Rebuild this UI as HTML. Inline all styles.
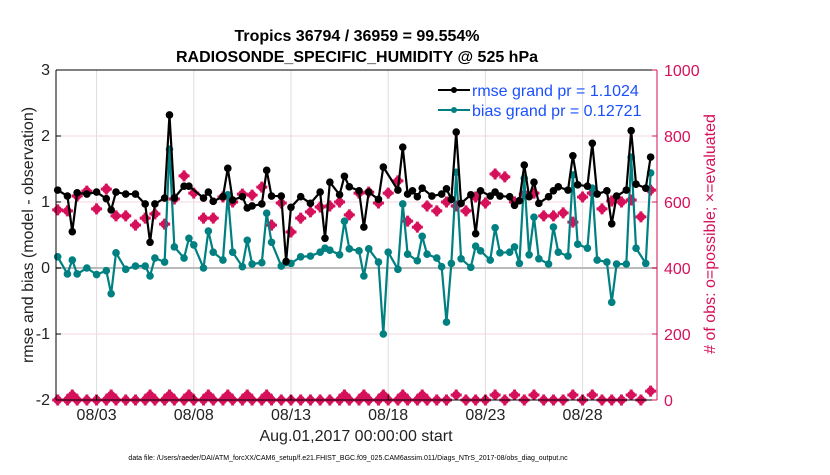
<!DOCTYPE html>
<html><head><meta charset="utf-8"><style>
body{margin:0;background:#fff;font-family:"Liberation Sans",sans-serif}
svg text{font-family:"Liberation Sans",sans-serif}
</style></head><body>
<svg id="chart" width="830" height="470" viewBox="0 0 830 470" xmlns="http://www.w3.org/2000/svg">
<text x="357" y="41" text-anchor="middle" font-size="16" font-weight="bold">Tropics 36794 / 36959 = 99.554%</text>
<text x="357" y="62" text-anchor="middle" font-size="16" font-weight="bold">RADIOSONDE_SPECIFIC_HUMIDITY @ 525 hPa</text>
<g id="grid"></g>
<g id="marks"></g>
<g id="axes"></g>
<text transform="translate(33,235) rotate(-90)" text-anchor="middle" font-size="16" fill="#222">rmse and bias (model - observation)</text>
<text transform="translate(715,234) rotate(-90)" text-anchor="middle" font-size="16" fill="#d6105a"># of obs: o=possible; ×=evaluated</text>
<text x="356" y="441" text-anchor="middle" font-size="16" fill="#222">Aug.01,2017 00:00:00 start</text>
<text x="348" y="460" text-anchor="middle" font-size="7">data file: /Users/raeder/DAI/ATM_forcXX/CAM6_setup/f.e21.FHIST_BGC.f09_025.CAM6assim.011/Diags_NTrS_2017-08/obs_diag_output.nc</text>
<g>
<line x1="438" y1="90" x2="470" y2="90" stroke="#000" stroke-width="2"/><circle cx="454" cy="90" r="3" fill="#000"/>
<text x="472" y="96" font-size="16" fill="#1a4fff">rmse grand pr = 1.1024</text>
<line x1="438" y1="110" x2="470" y2="110" stroke="#008080" stroke-width="2"/><circle cx="454" cy="110" r="3" fill="#008080"/>
<text x="472" y="116" font-size="16" fill="#1a4fff">bias grand pr = 0.12721</text>
</g>
</svg>
<script>
const rmseK=[0,2,3,4,6,8,10,11,12,14,16,18,19,20,22,23,24,26,27,30,31,32,34,35,36,38,39,40,42,43,44,46,47,48,50,52,54,55,56,58,59,60,62,63,64,66,67,70,71,72,73,74,75,77,79,80,81,82,83,85,86,87,89,90,91,93,94,95,96,97,98,99,101,102,103,105,106,107,109,110,111,113,114,115,117,118,119,121,122];
const rmseV=[1.18,1.09,0.55,1.14,1.12,1.15,1.05,0.88,1.15,1.12,1.12,0.97,0.39,0.97,1.06,2.32,1.06,1.24,1.24,1.06,1.15,1.01,1.08,1.51,1.03,1.08,0.91,0.94,0.97,1.48,1.09,1.09,0.1,0.92,1.08,0.98,1.15,0.45,1.3,1.11,1.39,1.23,1.17,0.62,1.15,1.04,1.53,1.18,1.83,1.12,1.17,1.08,1.21,1.09,1.12,1.2,1.04,2.06,0.98,1.11,0.52,1.17,1.09,1.15,1.09,1.08,0.95,1.02,1.56,1.08,1.3,0.98,1.08,1.17,1.23,1.18,1.7,1.26,1.24,1.89,1.12,1.17,0.67,1.09,1.18,2.08,1.27,1.21,1.68];
const biasK=[0,2,3,4,6,8,10,11,12,14,16,18,19,20,22,23,24,26,27,28,30,31,32,34,35,36,38,39,40,42,43,44,46,47,48,50,52,54,55,56,58,59,60,62,63,64,66,67,68,70,71,72,74,75,76,78,79,80,81,82,83,85,86,87,89,90,91,93,94,95,96,97,98,99,101,102,103,105,106,107,109,110,111,113,114,115,117,118,119,121,122];
const biasV=[0.17,-0.09,0.12,-0.09,0,-0.1,-0.04,-0.39,0.23,-0.02,0.03,0.03,-0.12,0.15,0.09,1.8,0.32,0.15,0.45,0.35,0,0.56,0.24,0.12,1.11,0.24,0.02,0.42,0.06,0.08,0.83,0.39,0.03,0.08,0.07,0.17,0.18,0.24,0.3,0.27,0.2,0.71,0.29,0.26,-0.12,0.29,0.09,-1.0,0.24,-0.02,0.97,0.21,0.11,0.48,0.21,0.15,0.02,-0.82,0.07,1.45,0.14,0.01,0.33,0.26,0.12,0.61,0.23,0.24,0.32,0.07,1.36,0.2,0.77,0.14,0.06,0.62,0.24,0.18,1.41,0.36,0.3,1.21,0.12,0.09,-0.52,0.06,0.06,1.68,0.3,0.07,1.44];
const countK=[0,2,4,6,8,10,12,14,16,18,20,22,24,26,28,30,32,34,36,38,40,42,44,46,48,50,52,54,56,58,60,62,64,66,68,70,72,74,76,78,80,82,84,86,88,90,92,94,96,98,100,102,104,106,108,110,112,114,116,118,120,122];
const countV=[576,573,618,633,579,639,558,558,530,551,564,533,609,679,627,551,551,615,600,624,621,645,530,597,509,551,570,585,588,600,561,627,630,597,627,664,542,524,588,573,600,588,573,615,597,685,676,600,624,627,558,558,567,539,615,627,579,603,600,606,555,636];
const lowK=[0,2,3,4,6,8,10,11,12,14,16,18,19,20,22,23,24,26,27,28,30,31,32,34,35,36,38,39,40,42,43,44,46,48,50,52,54,56,58,59,60,62,63,64,66,67,68,70,71,72,74,75,76,78,80,82,84,86,88,90,92,94,96,98,100,102,104,106,108,110,112,114,116,118,120,122];
const lowV=[0,0,15,0,0,0,0,15,0,0,0,0,15,0,0,15,0,0,15,0,0,15,0,0,15,0,0,15,0,0,15,0,0,0,0,0,0,0,0,15,0,0,15,0,0,15,0,0,15,0,0,15,0,0,0,15,0,0,0,15,0,15,0,15,0,0,0,15,0,15,0,0,0,15,0,27];
const leftTicks=[3,2,1,0,-1,-2];
const rightTicks=[1000,800,600,400,200,0];
const dayTicks=[2,7,12,17,22,27];
const dayLabels=["08/03","08/08","08/13","08/18","08/23","08/28"];

const X0=56,X1=657,Y0=70,Y1=400;
const xk=k=>57.7+k*4.86;
const xd=d=>57.7+d*19.44;
const yl=v=>268-v*66;
const yr=c=>400-c*0.33;
const NS="http://www.w3.org/2000/svg";
function mk(tag,attrs,parent){const e=document.createElementNS(NS,tag);for(const a in attrs)e.setAttribute(a,attrs[a]);parent.appendChild(e);return e;}
const grid=document.getElementById('grid'),marks=document.getElementById('marks'),axes=document.getElementById('axes');
dayTicks.forEach(d=>{const l=mk('line',{x1:xd(d),x2:xd(d),y1:Y0,y2:Y1,stroke:'#ddd','stroke-width':1},grid);

});
rightTicks.forEach(c=>{if(c===0||c===1000||c===400)return;const l=mk('line',{x1:X0,x2:X1,y1:yr(c),y2:yr(c),stroke:'#f2d6df','stroke-width':1},grid);

});
const zl=mk('line',{x1:X0,x2:X1,y1:yl(0),y2:yl(0),stroke:'#bbb','stroke-width':2},grid);


function series(K,V,color,name){
 const p=mk('polyline',{points:K.map((k,i)=>xk(k)+','+yl(V[i])).join(' '),fill:'none',stroke:color,'stroke-width':2.2},marks);
 
 
 K.forEach((k,i)=>{const c=mk('circle',{cx:xk(k),cy:yl(V[i]),r:3.8,fill:color},marks);
 
 });
}
function star(K,V,name){
 K.forEach((k,i)=>{const x=xk(k),y=yr(V[i]);const g=mk('g',{},marks);
 
 
 mk('circle',{cx:x,cy:y,r:4.2,fill:'#d6105a'},g);
 mk('path',{d:`M${x-5.5},${y}H${x+5.5}M${x},${y-5.5}V${y+5.5}`,stroke:'#d6105a','stroke-width':3},g);});
}
star(countK,countV,'obs-count-marker');
star(lowK,lowV,'obs-low-count-marker');
series(biasK,biasV,'#008080','bias');
series(rmseK,rmseV,'#000','rmse');
const box=[['line',{x1:X0,x2:X0,y1:Y0,y2:Y1,stroke:'#000'}],['line',{x1:X0,x2:X1,y1:Y1,y2:Y1,stroke:'#000'}],['line',{x1:X0,x2:X1,y1:Y0,y2:Y0,stroke:'#000'}],['line',{x1:X1,x2:X1,y1:Y0,y2:Y1,stroke:'#d6105a'}]];
box.forEach(b=>{const e=mk(b[0],Object.assign({'stroke-width':1},b[1]),axes);

});
leftTicks.forEach(v=>{mk('line',{x1:X0,x2:X0+5,y1:yl(v),y2:yl(v),stroke:'#000'},axes);
const t=mk('text',{x:X0-6,y:yl(v)+5,'text-anchor':'end','font-size':16,fill:'#222'},axes);t.textContent=v;

});
rightTicks.forEach(c=>{mk('line',{x1:X1-5,x2:X1,y1:yr(c),y2:yr(c),stroke:'#d6105a'},axes);
const t=mk('text',{x:X1+7,y:yr(c)+6,'font-size':16,fill:'#d6105a'},axes);t.textContent=c;

});
dayTicks.forEach((d,i)=>{mk('line',{x1:xd(d),x2:xd(d),y1:Y1-5,y2:Y1,stroke:'#000'},axes);
const t=mk('text',{x:xd(d),y:Y1+20,'text-anchor':'middle','font-size':16,fill:'#222'},axes);t.textContent=dayLabels[i];

});
</script>
</body></html>
